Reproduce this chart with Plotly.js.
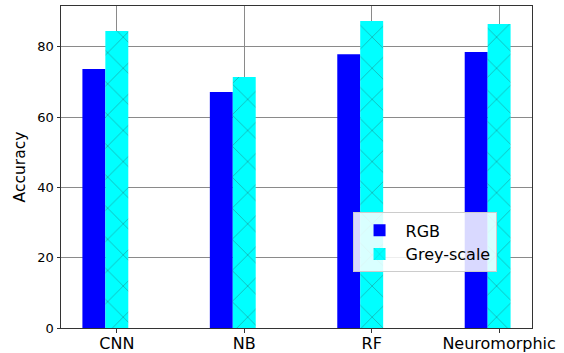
<!DOCTYPE html>
<html>
<head>
<meta charset="utf-8">
<script src="https://cdn.plot.ly/plotly-3.0.1.min.js"></script>
<style>
  html, body { margin: 0; padding: 0; background: #fff; }
  #chart { width: 564px; height: 353px; }
</style>
</head>
<body>
<div id="chart"></div>
<script>
const categories = ["CNN", "NB", "RF", "Neuromorphic"];
const rgbValues = [73.7, 67.1, 77.9, 78.5];
const greyValues = [84.5, 71.4, 87.3, 86.5];
const seriesNames = ["RGB", "Grey-scale"];
const yTicks = [0, 20, 40, 60, 80];

const barWidth = 0.18;
const idx = categories.map((_, i) => i);

const traces = [
  {
    type: "bar",
    name: seriesNames[0],
    x: idx.map(i => i - barWidth),
    y: rgbValues,
    width: barWidth,
    marker: { color: "#0000ff", line: { width: 0 } },
    hoverinfo: "skip"
  },
  {
    type: "bar",
    name: seriesNames[1],
    x: idx,
    y: greyValues,
    width: barWidth,
    marker: {
      color: "#00ffff",
      line: { width: 0 },
      pattern: { shape: "x", bgcolor: "#00ffff", fgcolor: "#2a6060", fgopacity: 0.7, size: 22, solidity: 0.05, fillmode: "replace" }
    },
    hoverinfo: "skip"
  }
];

const fam = "DejaVu Sans, sans-serif";

const layout = {
  width: 564,
  height: 353,
  margin: { l: 61, r: 32, t: 6, b: 25 },
  paper_bgcolor: "#fff",
  plot_bgcolor: "#fff",
  font: { family: fam, size: 13, color: "#000" },
  barmode: "overlay",
  showlegend: true,
  legend: {
    x: 0.619, y: 0.359, xanchor: "left", yanchor: "top",
    bgcolor: "rgba(255,255,255,0.85)",
    bordercolor: "#cccccc", borderwidth: 1,
    font: { family: fam, size: 16, color: "#000" },
    itemwidth: 42,
    tracegroupgap: 0
  },
  xaxis: {
    range: [-0.438, 3.258],
    tickmode: "array",
    tickvals: idx,
    ticktext: categories,
    tickfont: { family: fam, size: 16, color: "#000" },
    ticklabelstandoff: -3,
    ticks: "outside", ticklen: 3.5, tickwidth: 1, tickcolor: "#333",
    showgrid: true, gridcolor: "#8a8a8a", gridwidth: 1,
    showline: true, linecolor: "#333", linewidth: 1, mirror: true,
    zeroline: false,
    layer: "above traces",
    fixedrange: true
  },
  yaxis: {
    range: [0, 91.6],
    tickmode: "array",
    tickvals: yTicks,
    ticktext: yTicks.map(String),
    tickfont: { family: fam, size: 13, color: "#000" },
    ticks: "outside", ticklen: 3.5, tickwidth: 1, tickcolor: "#333",
    showgrid: true, gridcolor: "#8a8a8a", gridwidth: 1,
    showline: true, linecolor: "#333", linewidth: 1, mirror: true,
    zeroline: false,
    layer: "above traces",
    title: { text: "Accuracy", font: { family: fam, size: 15.5, color: "#000" }, standoff: 7 },
    fixedrange: true
  }
};

Plotly.newPlot("chart", traces, layout, { staticPlot: true, displayModeBar: false });
</script>
</body>
</html>
